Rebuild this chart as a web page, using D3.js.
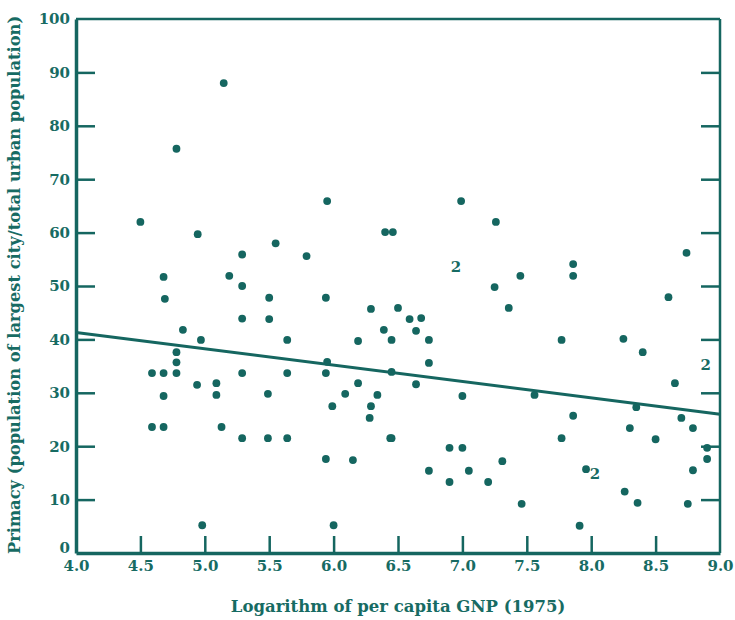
<!DOCTYPE html>
<html>
<head>
<meta charset="utf-8">
<script src="https://cdnjs.cloudflare.com/ajax/libs/d3/7.8.5/d3.min.js"></script>
<style>
  body { margin: 0; background: #fff; }
  text { font-family: "DejaVu Serif", serif; font-weight: bold; fill: #176b63; }
</style>
</head>
<body>
<div id="chart"></div>
<script>
// log GNP per capita (x) and primacy (y)
var gnp = [4.50, 4.59, 4.59, 4.68, 4.68, 4.69, 4.68, 4.68, 4.78, 4.78, 4.78, 4.78, 4.83,
           4.94, 4.945, 4.97, 4.98, 5.09, 5.09, 5.13, 5.147, 5.19, 5.29, 5.29, 5.29, 5.29, 5.29,
           5.49, 5.50, 5.50, 5.49, 5.55, 5.64, 5.64, 5.64, 5.79,
           5.94, 5.94, 5.95, 5.95, 5.94, 5.99, 6.00, 6.09, 6.15, 6.19, 6.19,
           6.28, 6.29, 6.29, 6.34, 6.39, 6.40, 6.45, 6.46, 6.45, 6.45, 6.44, 6.50,
           6.59, 6.64, 6.64, 6.68, 6.74, 6.74, 6.74,
           6.90, 6.90, 6.99, 7.00, 7.00, 7.05, 7.20, 7.25, 7.26, 7.31, 7.36, 7.45, 7.46, 7.56,
           7.77, 7.77, 7.86, 7.86, 7.86, 7.91, 7.96,
           8.25, 8.26, 8.30, 8.35, 8.36, 8.40, 8.50, 8.60, 8.65, 8.70, 8.74, 8.75, 8.79, 8.79,
           8.90, 8.90];
var primacy = [62.0, 33.7, 23.6, 51.7, 29.4, 47.6, 23.6, 33.7, 75.7, 37.6, 35.7, 33.7, 41.8,
               31.5, 59.7, 39.9, 5.2, 31.8, 29.6, 23.6, 88.0, 51.9, 55.9, 50.0, 33.7, 21.5, 43.9,
               29.8, 47.8, 43.8, 21.5, 58.0, 39.9, 33.7, 21.5, 55.6,
               47.8, 33.7, 65.9, 35.8, 17.6, 27.5, 5.2, 29.8, 17.4, 39.7, 31.8,
               25.3, 45.7, 27.5, 29.6, 41.8, 60.1, 39.9, 60.1, 33.9, 21.5, 21.5, 45.9,
               43.8, 41.6, 31.6, 44.0, 39.9, 35.6, 15.4,
               19.7, 13.3, 65.9, 29.4, 19.7, 15.4, 13.3, 49.8, 62.0, 17.2, 45.9, 51.9, 9.2, 29.6,
               39.9, 21.5, 54.1, 51.9, 25.7, 5.1, 15.7,
               40.1, 11.5, 23.4, 27.3, 9.4, 37.6, 21.3, 47.9, 31.8, 25.3, 56.2, 9.2, 23.4, 15.5,
               19.7, 17.6];

// places where the plot shows a "2" (two countries at one spot)
var twoX = [6.95, 8.89, 8.03];
var twoY = [53.6, 35.2, 14.8];

// fitted line end points
var fitX = [4.0, 9.0];
var fitY = [41.3, 26.0];

var yTicks = [0, 10, 20, 30, 40, 50, 60, 70, 80, 90, 100];
var xTicks = [4.0, 4.5, 5.0, 5.5, 6.0, 6.5, 7.0, 7.5, 8.0, 8.5, 9.0];

var teal = "#156660";
var W = 735, H = 620;

var x = d3.scaleLinear().domain([4, 9]).range([76, 720]);
var y = d3.scaleLinear().domain([0, 100]).range([553, 19]);

var svg = d3.select("#chart").append("svg")
    .attr("width", W)
    .attr("height", H);

// frame: thin top and right, heavier left and bottom
svg.append("line").attr("x1", x(4)).attr("x2", x(9)).attr("y1", y(100)).attr("y2", y(100))
    .attr("stroke", teal).attr("stroke-width", 2.5);
svg.append("line").attr("x1", x(9)).attr("x2", x(9)).attr("y1", y(100)).attr("y2", y(0))
    .attr("stroke", teal).attr("stroke-width", 2.5);

// left axis, ticks pointing in
var gy = svg.append("g")
    .attr("transform", "translate(" + x(4) + ",0)")
    .call(d3.axisLeft(y).tickValues(yTicks).tickSizeInner(-19).tickSizeOuter(0).tickPadding(6)
      .tickFormat(d3.format("d")));
gy.select(".domain").attr("stroke", teal).attr("stroke-width", 3.5);
gy.selectAll(".tick line").attr("stroke", teal).attr("stroke-width", 2.5)
    .filter(function(d) { return d == 0 || d == 100; }).remove();
gy.selectAll(".tick text").attr("fill", teal).style("font-size", "15px");
// the 0 label sits a bit higher so it clears the 4.0 below it
gy.selectAll(".tick text").filter(function(d) { return d == 0; }).attr("dy", "-0.05em");

// right axis ticks (no labels)
var gr = svg.append("g")
    .attr("transform", "translate(" + x(9) + ",0)")
    .call(d3.axisRight(y).tickValues(yTicks.slice(1, -1)).tickSizeInner(-19).tickSizeOuter(0)
      .tickFormat(""));
gr.select(".domain").remove();
gr.selectAll(".tick line").attr("stroke", teal).attr("stroke-width", 2.5);

// bottom axis, ticks pointing up
var gx = svg.append("g")
    .attr("transform", "translate(0," + y(0) + ")")
    .call(d3.axisBottom(x).tickValues(xTicks).tickSizeInner(-17).tickSizeOuter(0).tickPadding(7)
      .tickFormat(d3.format(".1f")));
gx.select(".domain").attr("stroke", teal).attr("stroke-width", 3.5);
gx.selectAll(".tick line").attr("stroke", teal).attr("stroke-width", 2.5)
    .filter(function(d) { return d == 4 || d == 9; }).remove();
gx.selectAll(".tick text").attr("fill", teal).style("font-size", "15px");

// regression line
svg.append("line")
    .attr("x1", x(fitX[0])).attr("y1", y(fitY[0]))
    .attr("x2", x(fitX[1])).attr("y2", y(fitY[1]))
    .attr("stroke", teal).attr("stroke-width", 3);

// points
svg.selectAll(".dot")
    .data(gnp)
  .enter().append("circle")
    .attr("class", "dot")
    .attr("cx", function(d) { return x(d); })
    .attr("cy", function(d, i) { return y(primacy[i]); })
    .attr("r", 3.9)
    .attr("fill", teal);

// the "2" markers
svg.selectAll(".two")
    .data(twoX)
  .enter().append("text")
    .attr("class", "two")
    .attr("x", function(d) { return x(d); })
    .attr("y", function(d, i) { return y(twoY[i]); })
    .attr("text-anchor", "middle")
    .attr("dy", "0.35em")
    .style("font-size", "15px")
    .text("2");

// axis titles
svg.append("text")
    .attr("x", 398)
    .attr("y", 612)
    .attr("text-anchor", "middle")
    .style("font-size", "16.5px")
    .text("Logarithm of per capita GNP (1975)");

svg.append("text")
    .attr("transform", "translate(20,285) rotate(-90)")
    .attr("text-anchor", "middle")
    .style("font-size", "16.3px")
    .text("Primacy (population of largest city/total urban population)");
</script>
</body>
</html>
